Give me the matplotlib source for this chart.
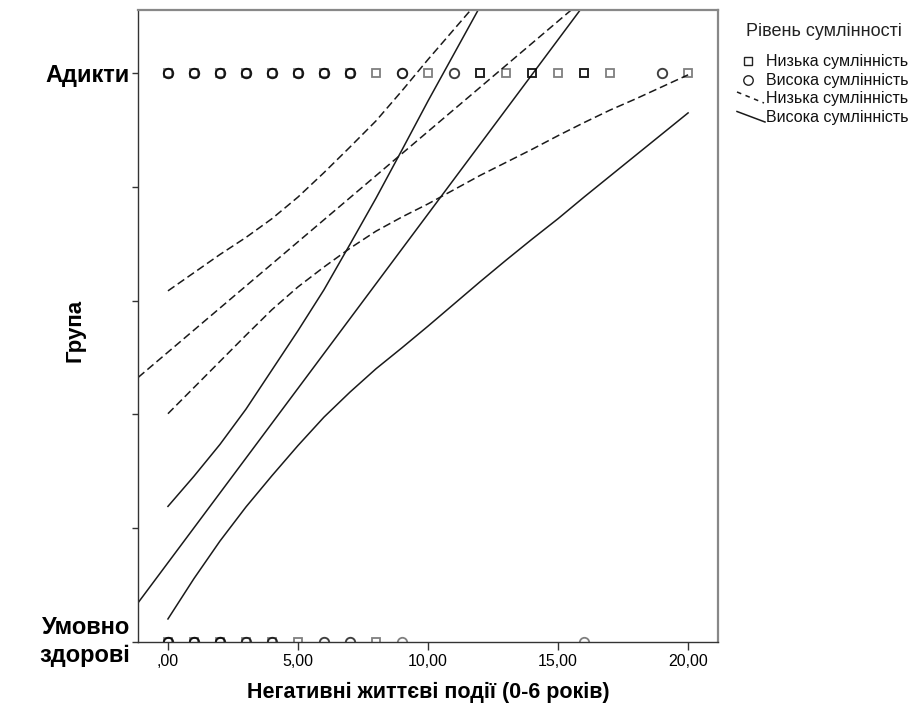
import matplotlib
matplotlib.use("Agg")
import matplotlib.pyplot as plt
from matplotlib.lines import Line2D

plt.rcParams['font.family'] = ['Liberation Sans', 'DejaVu Sans']

# ---------------- data ----------------
group_labels = ["Умовно\nздорові", "Адикти"]
x_ticks = [0, 5, 10, 15, 20]
x_tick_labels = [",00", "5,00", "10,00", "15,00", "20,00"]

# observed points (repeats = overlapping cases)
addict_low_x = [0, 1, 2, 3, 4, 5, 6, 7, 8, 10, 12, 12, 12, 13, 14, 14, 14, 15,
                16, 16, 16, 17, 20]
addict_high_x = [0, 0, 0, 1, 1, 1, 2, 2, 2, 3, 3, 3, 4, 4, 4, 5, 5, 5, 6, 6, 6,
                 7, 7, 7, 9, 9, 9, 11, 11, 19, 19]
healthy_low_x = [0, 1, 2, 3, 4, 5, 8]
healthy_high_x = [0, 0, 0, 1, 1, 1, 2, 2, 2, 3, 3, 4, 4, 6, 6, 7, 7, 9, 16]

# fit lines (values at the axis ends)
fit_x = [-1.14, 21.15]
low_fit = [0.465, 1.330]
high_fit = [0.069, 1.436]

# confidence bands read at these x values
ci_x = list(range(0, 21))
low_ci_upper = [0.617, 0.649, 0.681, 0.711, 0.744, 0.782, 0.825, 0.870, 0.916,
                0.969, 1.024, 1.077, 1.130, 1.183, 1.238, 1.292, 1.347, 1.403,
                1.459, 1.516, 1.573]
low_ci_lower = [0.401, 0.447, 0.493, 0.539, 0.584, 0.624, 0.659, 0.692, 0.722,
                0.747, 0.770, 0.795, 0.820, 0.843, 0.866, 0.890, 0.913, 0.935,
                0.955, 0.976, 0.997]
high_ci_upper = [0.238, 0.291, 0.347, 0.409, 0.478, 0.547, 0.619, 0.699, 0.780,
                 0.865, 0.951, 1.034, 1.117, 1.203, 1.288, 1.374, 1.460, 1.545,
                 1.630, 1.717, 1.802]
high_ci_lower = [0.040, 0.111, 0.177, 0.237, 0.292, 0.345, 0.395, 0.439, 0.480,
                 0.517, 0.555, 0.594, 0.633, 0.671, 0.708, 0.744, 0.782, 0.819,
                 0.856, 0.893, 0.930]

# ---------------- figure ----------------
W, H = 915, 708
fig = plt.figure(figsize=(W / 100, H / 100), dpi=100)
ax = fig.add_axes([138.3 / W, 1 - 641.7 / H, (718 - 138.3) / W, (641.7 - 10) / H])
ax.set_xlim(-1.14, 21.15)
ax.set_ylim(0, 1.111)

lc = '#1a1a1a'
dash = (0, (5.2, 2.6))
ax.plot(fit_x, low_fit, color=lc, lw=1.1, ls=dash)
ax.plot(ci_x, low_ci_upper, color=lc, lw=1.1, ls=dash)
ax.plot(ci_x, low_ci_lower, color=lc, lw=1.1, ls=dash)
ax.plot(fit_x, high_fit, color=lc, lw=1.1)
ax.plot(ci_x, high_ci_upper, color=lc, lw=1.1)
ax.plot(ci_x, high_ci_lower, color=lc, lw=1.1)

mk = dict(linestyle='none', markerfacecolor='none', markeredgecolor='black',
          alpha=0.5, markeredgewidth=1.3)
ax.plot(addict_low_x, [1] * len(addict_low_x), marker='s', markersize=5.2, **mk)
ax.plot(healthy_low_x, [0] * len(healthy_low_x), marker='s', markersize=5.2, **mk)
ax.plot(addict_high_x, [1] * len(addict_high_x), marker='o', markersize=6.8, **mk)
ax.plot(healthy_high_x, [0] * len(healthy_high_x), marker='o', markersize=6.8, **mk)

# axes styling
for s in ['left', 'bottom']:
    ax.spines[s].set_color('#333333')
    ax.spines[s].set_linewidth(1.0)
for s in ['top', 'right']:
    ax.spines[s].set_color('#888888')
    ax.spines[s].set_linewidth(1.6)

ax.set_xticks(x_ticks)
ax.set_xticklabels(x_tick_labels, fontsize=11.5)
ax.set_yticks([0, 0.2, 0.4, 0.6, 0.8, 1.0])
ax.set_yticklabels([group_labels[0], "", "", "", "", group_labels[1]],
                   fontsize=17, fontweight='bold', linespacing=1.25)
ax.tick_params(axis='x', direction='out', length=6, width=1, color='#333333', pad=3)
ax.tick_params(axis='y', direction='out', length=4, width=1, color='#333333', pad=2)
for lbl in ax.get_yticklabels():
    lbl.set_horizontalalignment('right')
ax.get_yticklabels()[0].set_verticalalignment('center')

ax.set_xlabel("Негативні життєві події (0-6 років)", fontsize=15.5,
              fontweight='bold', labelpad=9)
fig.text(75 / W, 1 - 330 / H, "Група", rotation=90, fontsize=16,
         fontweight='bold', ha='center', va='center')

# ---------------- legend ----------------
def fx(x):
    return x / W

def fy(y):
    return 1 - y / H

fig.text(fx(746), fy(31), "Рівень сумлінності", fontsize=13, ha='left', va='center',
         color='#222222')
entries = ["Низька сумлінність", "Висока сумлінність",
           "Низька сумлінність", "Висока сумлінність"]
ys = [61.5, 80, 98.5, 117.3]
for t, y in zip(entries, ys):
    fig.text(fx(766), fy(y), t, fontsize=11.5, ha='left', va='center', color='#111111')
fig.add_artist(Line2D([fx(748.3)], [fy(61)], marker='s', markersize=5.2,
                      markerfacecolor='none', markeredgecolor='#222222',
                      markeredgewidth=1.0, transform=fig.transFigure))
fig.add_artist(Line2D([fx(748.3)], [fy(80)], marker='o', markersize=6.8,
                      markerfacecolor='none', markeredgecolor='#222222',
                      markeredgewidth=1.0, transform=fig.transFigure))
fig.add_artist(Line2D([fx(737), fx(764)], [fy(92), fy(103)], color=lc, lw=1.1,
                      ls=(0, (3.0, 3.0)), transform=fig.transFigure))
fig.add_artist(Line2D([fx(737), fx(765)], [fy(111.5), fy(122)], color=lc, lw=1.1,
                      transform=fig.transFigure))

fig.savefig("out.png", dpi=100)
